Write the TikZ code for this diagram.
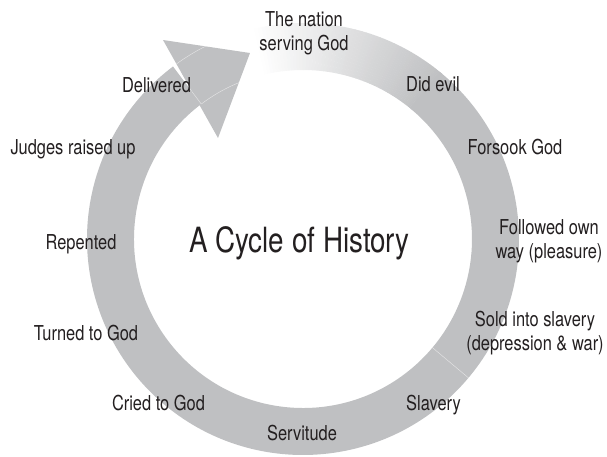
\documentclass[tikz,border=0pt]{standalone}
\usepackage{fontspec}
\setmainfont{TeX Gyre Heros}[FakeStretch=0.8]
\definecolor{ringgray}{RGB}{191,192,194}
\definecolor{inkgray}{RGB}{35,31,32}

\begin{document}
\begin{tikzpicture}[x=0.025cm,y=0.025cm,
    lbl/.style={font=\fontsize{14.6}{16.4}\selectfont,text=inkgray,inner sep=0pt,anchor=base,align=center},
    ttl/.style={font=\fontsize{24.7}{28}\selectfont,text=inkgray,inner sep=0pt,anchor=base},
    seam/.style={white,opacity=.6,line width=.3pt}]
	\useasboundingbox (-303,-217) rectangle (304,239);
	% fading start of the ring
	\foreach \a [evaluate=\a as \p using {\a*100/54}] in {0,...,53} { \fill[ringgray!\p!white] ({104-\a}:216) arc ({104-\a}:{102.9-\a}:216) -- ({102.9-\a}:169) arc ({102.9-\a}:{104-\a}:169) -- cycle;}
	% rest of the ring and the head
	\fill[ringgray] (50.5:216) arc (50.5:-233:216) -- (-233:169) arc (-233:50.5:169) -- cycle;
	\fill[ringgray] (-140,199) -- (-53,186) -- (-85,101) -- cycle;
	\begin{scope}
		\clip (-140,199) -- (-53,186) -- (-85,101) -- cycle;
		\draw[seam] (127:216) arc (127:100:216);
		\draw[seam] (127:169) arc (127:100:169);
		\draw[seam] (127:169) -- (127:216);
	\end{scope}
	\draw[seam] (-40:169) -- (-40:216);
	% labels
	\node[ttl] (title) at (-3.5,-13) {A Cycle of History};
	\node[lbl] (nation) at (1,189) {The nation\\serving God};
	\node[lbl] (evil) at (130,148) {Did evil};
	\node[lbl] (forsook) at (212,85) {Forsook God};
	\node[lbl] (own) at (246,-19) {Followed own\\way (pleasure)};
	\node[lbl] (sold) at (232,-111) {Sold into slavery\\(depression \& war)};
	\node[lbl] (slavery) at (130.5,-171) {Slavery};
	\node[lbl] (servitude) at (-1,-201) {Servitude};
	\node[lbl] (cried) at (-144.5,-171) {Cried to God};
	\node[lbl] (turned) at (-217,-101) {Turned to God};
	\node[lbl] (repented) at (-222,-10) {Repented};
	\node[lbl] (judges) at (-230,85) {Judges raised up};
	\node[lbl] (delivered) at (-146.5,147) {Delivered};
\end{tikzpicture}
\end{document}
